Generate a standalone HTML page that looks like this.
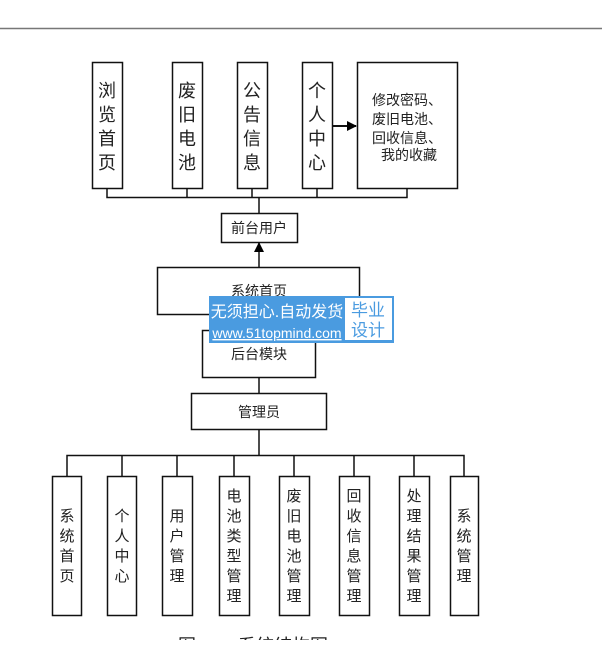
<!DOCTYPE html>
<html><head><meta charset="utf-8"><style>
body{margin:0;background:#fff;}
svg text{font-family:"Liberation Sans","Noto Sans CJK SC",sans-serif;fill:#222;}
</style></head><body>
<svg width="602" height="640" viewBox="0 0 602 640" xmlns="http://www.w3.org/2000/svg">
<defs><marker id="ah" markerWidth="10" markerHeight="10" refX="9" refY="5" orient="auto" markerUnits="userSpaceOnUse"><path d="M0,0 L10,5 L0,10 z" fill="#000"/></marker></defs>
<line x1="0" y1="28.5" x2="602" y2="28.5" stroke="#777" stroke-width="1.5"/>
<g fill="#fff" stroke="#111" stroke-width="1.5">
<rect x="92.5" y="62.5" width="30" height="126"/>
<rect x="172.5" y="62.5" width="30" height="126"/>
<rect x="237.5" y="62.5" width="30" height="126"/>
<rect x="302.5" y="62.5" width="30" height="126"/>
<rect x="357.5" y="62.5" width="100" height="126"/>
<rect x="221.5" y="213.5" width="76" height="29"/>
<rect x="157.5" y="267.5" width="202" height="47"/>
<rect x="202.5" y="330.5" width="113" height="47"/>
<rect x="191.5" y="393.5" width="135" height="36"/>
<rect x="52.5" y="476.5" width="29" height="139"/>
<rect x="107.5" y="476.5" width="29" height="139"/>
<rect x="162.5" y="476.5" width="30" height="139"/>
<rect x="219.5" y="476.5" width="30" height="139"/>
<rect x="279.5" y="476.5" width="30" height="139"/>
<rect x="339.5" y="476.5" width="30" height="139"/>
<rect x="399.5" y="476.5" width="30" height="139"/>
<rect x="450.5" y="476.5" width="28" height="139"/>
</g>
<g stroke="#111" stroke-width="1.5" fill="none">
<path d="M107 189V197.5H407V189 M187 189V197.5 M252 189V197.5 M317 189V197.5 M259 197V213"/>
<line x1="332" y1="126" x2="356" y2="126" stroke-width="2" marker-end="url(#ah)"/>
<line x1="259" y1="267" x2="259" y2="243" marker-end="url(#ah)"/>
<path d="M259 314V330 M259 377V393 M259 429V455"/>
<path d="M67 476V455.5H464V476 M122 455V476 M177 455V476 M234 455V476 M294 455V476 M354 455V476 M414 455V476"/>
</g>
<g font-size="18" text-anchor="middle">
<text x="107" y="97">浏</text><text x="107" y="121">览</text><text x="107" y="145">首</text><text x="107" y="169">页</text>
<text x="187" y="97">废</text><text x="187" y="121">旧</text><text x="187" y="145">电</text><text x="187" y="169">池</text>
<text x="252" y="97">公</text><text x="252" y="121">告</text><text x="252" y="145">信</text><text x="252" y="169">息</text>
<text x="317" y="97">个</text><text x="317" y="121">人</text><text x="317" y="145">中</text><text x="317" y="169">心</text>
</g>
<g font-size="14" text-anchor="middle">
<text x="407" y="105">修改密码、</text><text x="407" y="124">废旧电池、</text><text x="407" y="143">回收信息、</text><text x="409" y="160">我的收藏</text>
<text x="259" y="233">前台用户</text>
<text x="259" y="296">系统首页</text>
<text x="259" y="359">后台模块</text>
<text x="259" y="417">管理员</text>
</g>
<g font-size="15" text-anchor="middle">
<text x="67" y="521">系</text><text x="67" y="541">统</text><text x="67" y="561">首</text><text x="67" y="581">页</text>
<text x="122" y="521">个</text><text x="122" y="541">人</text><text x="122" y="561">中</text><text x="122" y="581">心</text>
<text x="177" y="521">用</text><text x="177" y="541">户</text><text x="177" y="561">管</text><text x="177" y="581">理</text>
<text x="234" y="501">电</text><text x="234" y="521">池</text><text x="234" y="541">类</text><text x="234" y="561">型</text><text x="234" y="581">管</text><text x="234" y="601">理</text>
<text x="294" y="501">废</text><text x="294" y="521">旧</text><text x="294" y="541">电</text><text x="294" y="561">池</text><text x="294" y="581">管</text><text x="294" y="601">理</text>
<text x="354" y="501">回</text><text x="354" y="521">收</text><text x="354" y="541">信</text><text x="354" y="561">息</text><text x="354" y="581">管</text><text x="354" y="601">理</text>
<text x="414" y="501">处</text><text x="414" y="521">理</text><text x="414" y="541">结</text><text x="414" y="561">果</text><text x="414" y="581">管</text><text x="414" y="601">理</text>
<text x="464" y="521">系</text><text x="464" y="541">统</text><text x="464" y="561">管</text><text x="464" y="581">理</text>
</g>
<text x="178" y="652" font-size="18" fill="#333">图</text>
<text x="238" y="652" font-size="18" fill="#333">系统结构图</text>
<rect x="209" y="296" width="185" height="47" fill="#4a9be0"/>
<rect x="345" y="298" width="47" height="42" fill="#fff"/>
<text x="277" y="317" font-size="16" text-anchor="middle" style="fill:#fff">无须担心.自动发货</text>
<text x="277" y="338" font-size="14" text-anchor="middle" style="fill:#fff;text-decoration:underline">www.51topmind.com</text>
<text x="368" y="316" font-size="17" text-anchor="middle" style="fill:#4a9be0">毕业</text>
<text x="368" y="336" font-size="17" text-anchor="middle" style="fill:#4a9be0">设计</text>
</svg>
</body></html>
